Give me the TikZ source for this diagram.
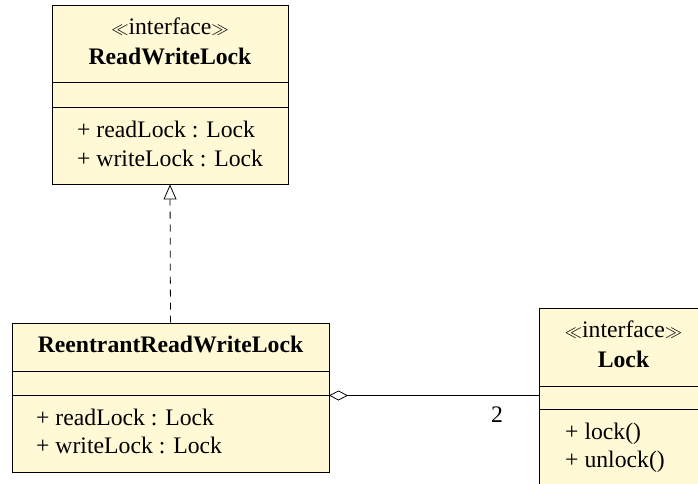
\documentclass[tikz,border=0pt]{standalone}
\usepackage{fontspec}
\setmainfont{Liberation Serif}
\usetikzlibrary{arrows.meta}
\definecolor{classfill}{RGB}{255,249,214}
\tikzset{
  classbox/.style={draw=black, fill=classfill, line width=0.9pt, inner sep=0pt},
  sepline/.style={draw=black, line width=0.9pt},
  txt/.style={inner sep=0pt, font=\fontsize{23.7}{28}\selectfont},
  attr/.style={txt, anchor=base west},
  title/.style={txt, anchor=base},
  realize/.style={draw=black, line width=0.8pt, dash pattern=on 7pt off 6pt,
    -{Triangle[open, length=15pt, width=13pt, line width=0.8pt]}},
  aggregate/.style={draw=black, line width=0.8pt,
    {Diamond[open, length=19pt, width=10pt, line width=0.8pt]}-},
}
\newcommand{\stereo}[1]{{\fontsize{19}{19}\selectfont$\ll$}#1{\fontsize{19}{19}\selectfont$\gg$}}
\begin{document}
\begin{tikzpicture}[x=1pt, y=-1pt]
  \useasboundingbox (0,0) rectangle (698,484);
  \clip (0,0) rectangle (698,484);

  % ReadWriteLock interface
  \node[classbox, minimum width=236pt, minimum height=179pt] (rwl) at (170,94.5) {};
  \draw[sepline] (52,82) -- (288,82);
  \draw[sepline] (52,107) -- (288,107);
  \node[title] (rwlstereo) at (170,35) {\stereo{interface}};
  \node[title] (rwlname) at (170,65) {\textbf{ReadWriteLock}};
  \node[attr] (rwlattr1) at (77,137) {+ readLock : Lock};
  \node[attr] (rwlattr2) at (77,166) {+ writeLock : Lock};

  % ReentrantReadWriteLock class
  \node[classbox, minimum width=317pt, minimum height=149pt] (rrwl) at (170.5,397.5) {};
  \draw[sepline] (12,371) -- (329,371);
  \draw[sepline] (12,395) -- (329,395);
  \node[title] (rrwlname) at (170.5,352) {\textbf{ReentrantReadWriteLock}};
  \node[attr] (rrwlattr1) at (36,425) {+ readLock : Lock};
  \node[attr] (rrwlattr2) at (36,453) {+ writeLock : Lock};

  % Lock interface
  \node[classbox, minimum width=169pt, minimum height=192pt] (lock) at (623.5,404) {};
  \draw[sepline] (539,386) -- (708,386);
  \draw[sepline] (539,409) -- (708,409);
  \node[title] (lockstereo) at (623.5,337) {\stereo{interface}};
  \node[title] (lockname) at (623.5,367) {\textbf{Lock}};
  \node[attr] (lockop1) at (565,439) {+ lock()};
  \node[attr] (lockop2) at (565,467) {+ unlock()};

  % relations
  \draw[realize] (rrwl.north) -- (rwl.south);
  \coordinate (aggstart) at (329,395.5);
  \draw[aggregate] (aggstart) -- (aggstart -| lock.west);
  \node[title] (mult) at (497,422) {2};
\end{tikzpicture}
\end{document}
